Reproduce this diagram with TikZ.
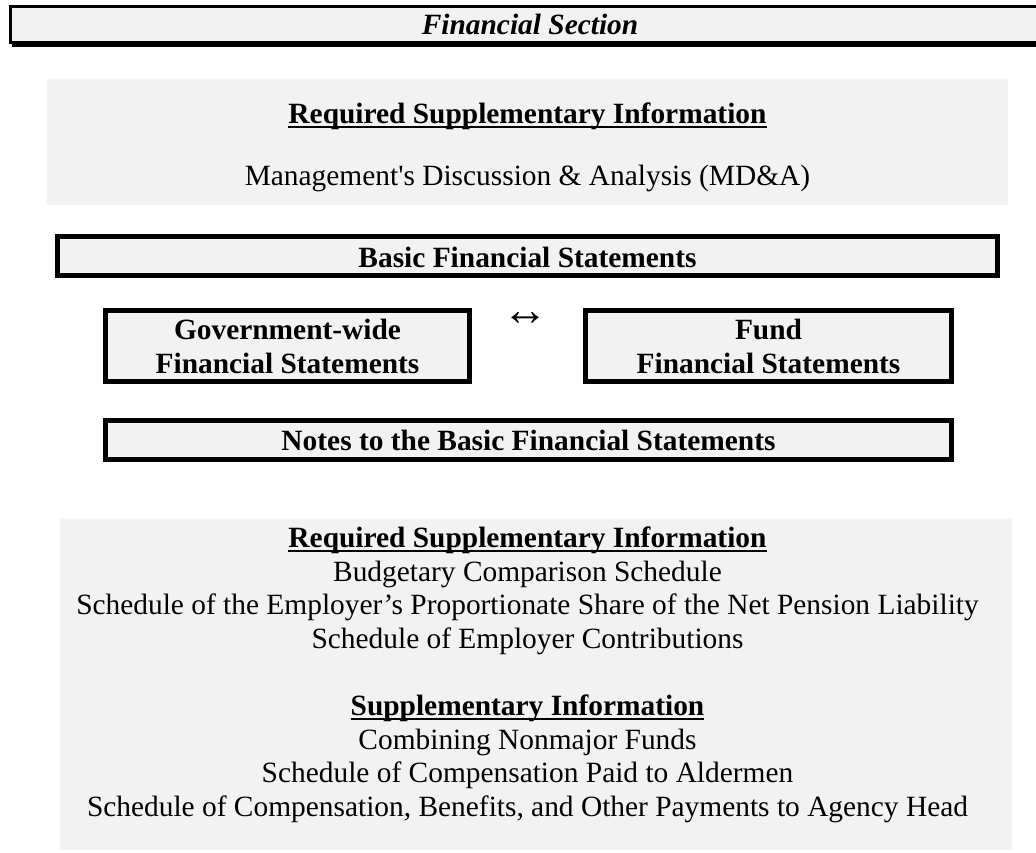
\documentclass[tikz,border=0pt]{standalone}
\usepackage{fontspec}
\setmainfont{Liberation Serif}
\definecolor{boxgray}{RGB}{242,242,242}
\newcommand\myul[1]{\leavevmode\setbox0=\hbox{#1}\rlap{\rule[-4.5pt]{\wd0}{2pt}}\box0}
\tikzset{
  thickbox/.style={draw=black, line width=5pt, fill=boxgray, inner sep=0pt},
  panel/.style={fill=boxgray, draw=none},
  txt/.style={anchor=base, inner sep=0pt, font=\fontsize{29.4}{34}\selectfont},
  btxt/.style={txt, font=\fontsize{29.4}{34}\selectfont\bfseries},
}
\begin{document}
\begin{tikzpicture}[x=1pt,y=-1pt]
\useasboundingbox (0,0) rectangle (1036,852);
% title bar
\fill[black] (12,42) rectangle (1045,46.5);
\draw[line width=3pt, fill=boxgray] (1045,6.5) -- (10.5,6.5) -- (10.5,42.5) -- (1045,42.5);
\node[txt, font=\fontsize{29.4}{34}\selectfont\bfseries\itshape] (title) at (530,34) {Financial Section};
% top panel
\fill[panel] (47,79) rectangle (1008,205);
\node[btxt] (rsi1) at (527.5,123) {\myul{Required Supplementary Information}};
\node[txt] (mda) at (527.5,185) {Management\textquotesingle s Discussion \& Analysis (MD\&A)};
% basic statements
\node[thickbox, minimum width=940pt, minimum height=39pt] (basic) at (527.5,256) {};
\node[btxt] (basict) at (527.5,267) {Basic Financial Statements};
\node[thickbox, minimum width=364pt, minimum height=71pt] (gov) at (287.5,346) {};
\node[btxt] (gov1) at (287.5,339) {Government-wide};
\node[btxt] (gov2) at (287.5,373) {Financial Statements};
\node[thickbox, minimum width=366pt, minimum height=71pt] (fund) at (768.5,346) {};
\node[btxt] (fund1) at (768.5,339) {Fund};
\node[btxt] (fund2) at (768.5,373) {Financial Statements};
\node[txt, font=\fontsize{46}{50}\selectfont] (arrow) at (525,325) {↔};
\node[thickbox, minimum width=846pt, minimum height=39pt] (notes) at (528.5,440) {};
\node[btxt] (notest) at (528.5,450) {Notes to the Basic Financial Statements};
% bottom panel
\fill[panel] (60,519) rectangle (1012,850);
\node[btxt] (rsi2) at (527.5,547) {\myul{Required Supplementary Information}};
\node[txt] (l1) at (527.5,581) {Budgetary Comparison Schedule};
\node[txt] (l2) at (527.5,614.6) {Schedule of the Employer’s Proportionate Share of the Net Pension Liability};
\node[txt] (l3) at (527.5,648.2) {Schedule of Employer Contributions};
\node[btxt] (si) at (527.5,715.4) {\myul{Supplementary Information}};
\node[txt] (l4) at (527.5,749) {Combining Nonmajor Funds};
\node[txt] (l5) at (527.5,782.6) {Schedule of Compensation Paid to Aldermen};
\node[txt] (l6) at (527.5,816.2) {Schedule of Compensation, Benefits, and Other Payments to Agency Head};
\end{tikzpicture}
\end{document}
